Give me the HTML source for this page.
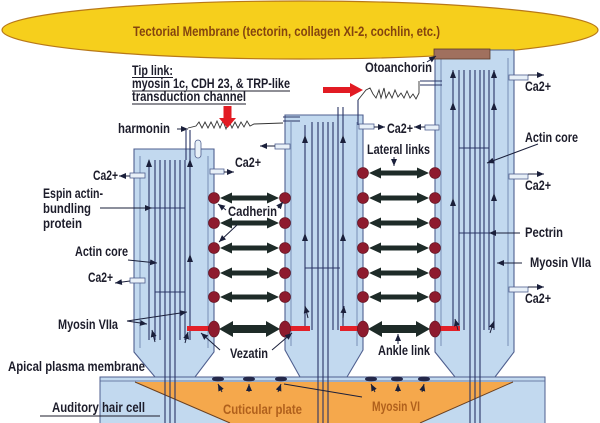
<!DOCTYPE html>
<html><head><meta charset="utf-8">
<style>
html,body{margin:0;padding:0;background:#fff;}
svg{display:block;}
text{font-family:"Liberation Sans",sans-serif;font-weight:bold;font-size:13.5px;fill:#1d1d2b;}
</style></head><body>
<svg width="600" height="423" viewBox="0 0 600 423" xmlns="http://www.w3.org/2000/svg">
<defs>
<marker id="ah" markerWidth="7" markerHeight="6" refX="7" refY="3" orient="auto" markerUnits="userSpaceOnUse"><path d="M0,0 L7,3 L0,6 Z" fill="#1a1f3a"/></marker>
</defs>

<!-- Tectorial membrane -->
<ellipse cx="300" cy="30" rx="298" ry="29" fill="#F6CF1C" stroke="#B87818" stroke-width="1.2"/>
<text x="133" y="36" textLength="307" lengthAdjust="spacingAndGlyphs" style="fill:#84440F">Tectorial Membrane (tectorin, collagen XI-2, cochlin, etc.)</text>

<!-- base cell body -->
<rect x="100" y="377" width="445" height="50" fill="#C2D9EF" stroke="#4F5F8F" stroke-width="1"/>
<line x1="100" y1="381" x2="545" y2="381" stroke="#4F5F8F" stroke-width="0.8"/>
<polygon points="135,382 513,382 420,423 230,423" fill="#F5A84C"/>
<polyline points="135,382 230,423" fill="none" stroke="#6a4020" stroke-width="1"/>
<polyline points="513,382 420,423" fill="none" stroke="#6a4020" stroke-width="1"/>

<!-- cells -->
<path d="M134,149 L214,149 L214,352 L195,377 L155,377 L134,352 Z" fill="#C2D9EF" stroke="#4F5F8F" stroke-width="1.1"/>
<path d="M285,115 L363,115 L363,350 L347,377 L300,377 L285,350 Z" fill="#C2D9EF" stroke="#4F5F8F" stroke-width="1.1"/>
<path d="M435,50 L514,50 L514,352 L495,377 L455,377 L435,352 Z" fill="#C2D9EF" stroke="#4F5F8F" stroke-width="1.1"/>

<!-- inner walls -->
<g stroke="#7088B0" stroke-width="0.9">
<line x1="140" y1="156" x2="140" y2="348"/><line x1="208" y1="156" x2="208" y2="348"/>
<line x1="291" y1="122" x2="291" y2="346"/><line x1="357" y1="122" x2="357" y2="346"/>
<line x1="441" y1="58" x2="441" y2="346"/><line x1="508" y1="58" x2="508" y2="346"/>
</g>

<!-- filaments cell 1 -->
<g stroke="#2a3566" stroke-width="1.1">
<line x1="149" y1="160" x2="149" y2="340"/><line x1="155" y1="160" x2="155" y2="340"/>
<line x1="160" y1="160" x2="160" y2="340"/><line x1="165" y1="160" x2="165" y2="423"/>
<line x1="170" y1="160" x2="170" y2="423"/><line x1="175" y1="160" x2="175" y2="423"/>
<line x1="180" y1="160" x2="180" y2="340"/><line x1="185" y1="160" x2="185" y2="340"/>
<line x1="190" y1="130" x2="190" y2="340"/><line x1="186" y1="130" x2="186" y2="160"/>
<line x1="149" y1="208" x2="185" y2="208"/><line x1="155" y1="292" x2="185" y2="292"/>
</g>
<rect x="195" y="140" width="6" height="18" rx="3" fill="#E8F0F8" stroke="#4F5F8F" stroke-width="0.8"/>
<g fill="#1a1f3a">
<path d="M146,167 L149,159 L152,167 Z"/><path d="M187,167 L190,159 L193,167 Z"/>
<path d="M187,262 L190,254 L193,262 Z"/>
</g>

<!-- filaments cell 2 -->
<g stroke="#2a3566" stroke-width="1.1">
<line x1="305" y1="125" x2="305" y2="330"/><line x1="312" y1="122" x2="312" y2="330"/>
<line x1="318" y1="122" x2="318" y2="423"/><line x1="323" y1="122" x2="323" y2="423"/>
<line x1="328" y1="122" x2="328" y2="423"/><line x1="333" y1="122" x2="333" y2="330"/>
<line x1="338" y1="107" x2="338" y2="330"/><line x1="343" y1="107" x2="343" y2="330"/>
<line x1="358" y1="100" x2="358" y2="125"/>
<line x1="305" y1="268" x2="340" y2="268"/>
<line x1="283" y1="117" x2="300" y2="117"/><line x1="283" y1="121" x2="300" y2="121"/>
</g>
<g fill="#1a1f3a">
<path d="M302,143 L305,135 L308,143 Z"/><path d="M340,143 L343,135 L346,143 Z"/>
<path d="M302,241 L305,233 L308,241 Z"/><path d="M340,241 L343,233 L346,241 Z"/>
</g>

<!-- filaments cell 3 -->
<g stroke="#2a3566" stroke-width="1.1">
<line x1="453" y1="70" x2="453" y2="330"/><line x1="459" y1="70" x2="459" y2="330"/>
<line x1="464" y1="70" x2="464" y2="330"/><line x1="470" y1="70" x2="470" y2="423"/>
<line x1="475" y1="70" x2="475" y2="423"/><line x1="480" y1="70" x2="480" y2="423"/>
<line x1="484" y1="70" x2="484" y2="330"/><line x1="489" y1="70" x2="489" y2="330"/>
<line x1="494" y1="70" x2="494" y2="330"/>
<line x1="459" y1="148" x2="489" y2="148"/><line x1="459" y1="233" x2="489" y2="233"/>
<line x1="420" y1="81" x2="442" y2="81"/><line x1="420" y1="85" x2="442" y2="85"/>
</g>
<g fill="#1a1f3a">
<path d="M450,78 L453,70 L456,78 Z"/><path d="M491,78 L494,70 L497,78 Z"/>
<path d="M450,110 L453,102 L456,110 Z"/><path d="M491,110 L494,102 L497,110 Z"/>
<path d="M450,206 L453,198 L456,206 Z"/><path d="M491,201 L494,193 L497,201 Z"/>
</g>
<rect x="434" y="49" width="56" height="10" fill="#A0705E" stroke="#5a3a2a" stroke-width="0.8"/>

<!-- red vezatin bars -->
<g fill="#E32028">
<rect x="187" y="326" width="27" height="5"/>
<rect x="285" y="326" width="25" height="5"/>
<rect x="340" y="326" width="23" height="5"/>
<rect x="435" y="326" width="25" height="5"/>
</g>

<!-- links -->
<g fill="#1E2B28">
<path d="M220,198 L232,192.5 L232,195.5 L267,195.5 L267,192.5 L279,198 L267,203.5 L267,200.5 L232,200.5 L232,203.5 Z"/>
<path d="M220,223 L232,217.5 L232,220.5 L267,220.5 L267,217.5 L279,223 L267,228.5 L267,225.5 L232,225.5 L232,228.5 Z"/>
<path d="M220,248 L232,242.5 L232,245.5 L267,245.5 L267,242.5 L279,248 L267,253.5 L267,250.5 L232,250.5 L232,253.5 Z"/>
<path d="M220,273 L232,267.5 L232,270.5 L267,270.5 L267,267.5 L279,273 L267,278.5 L267,275.5 L232,275.5 L232,278.5 Z"/>
<path d="M220,297 L232,291.5 L232,294.5 L267,294.5 L267,291.5 L279,297 L267,302.5 L267,299.5 L232,299.5 L232,302.5 Z"/>
<path d="M219,329 L233,321 L233,325 L266,325 L266,321 L280,329 L266,337 L266,333 L233,333 L233,337 Z"/>
<path d="M369,173 L381,167.5 L381,170.5 L417,170.5 L417,167.5 L429,173 L417,178.5 L417,175.5 L381,175.5 L381,178.5 Z"/>
<path d="M369,198 L381,192.5 L381,195.5 L417,195.5 L417,192.5 L429,198 L417,203.5 L417,200.5 L381,200.5 L381,203.5 Z"/>
<path d="M369,223 L381,217.5 L381,220.5 L417,220.5 L417,217.5 L429,223 L417,228.5 L417,225.5 L381,225.5 L381,228.5 Z"/>
<path d="M369,248 L381,242.5 L381,245.5 L417,245.5 L417,242.5 L429,248 L417,253.5 L417,250.5 L381,250.5 L381,253.5 Z"/>
<path d="M369,273 L381,267.5 L381,270.5 L417,270.5 L417,267.5 L429,273 L417,278.5 L417,275.5 L381,275.5 L381,278.5 Z"/>
<path d="M369,297 L381,291.5 L381,294.5 L417,294.5 L417,291.5 L429,297 L417,302.5 L417,299.5 L381,299.5 L381,302.5 Z"/>
<path d="M368,329 L382,321 L382,325 L416,325 L416,321 L430,329 L416,337 L416,333 L382,333 L382,337 Z"/>
</g>
<g fill="#8E1B2E" stroke="#5a0f1c" stroke-width="0.6">
<circle cx="214" cy="198" r="5.5"/><circle cx="285" cy="198" r="5.5"/>
<circle cx="214" cy="223" r="5.5"/><circle cx="285" cy="223" r="5.5"/>
<circle cx="214" cy="248" r="5.5"/><circle cx="285" cy="248" r="5.5"/>
<circle cx="214" cy="273" r="5.5"/><circle cx="285" cy="273" r="5.5"/>
<circle cx="214" cy="297" r="5.5"/><circle cx="285" cy="297" r="5.5"/>
<ellipse cx="214" cy="329" rx="5.5" ry="8"/><ellipse cx="285" cy="329" rx="5.5" ry="8"/>
<circle cx="363" cy="173" r="5.5"/><circle cx="435" cy="173" r="5.5"/>
<circle cx="363" cy="198" r="5.5"/><circle cx="435" cy="198" r="5.5"/>
<circle cx="363" cy="223" r="5.5"/><circle cx="435" cy="223" r="5.5"/>
<circle cx="363" cy="248" r="5.5"/><circle cx="435" cy="248" r="5.5"/>
<circle cx="363" cy="273" r="5.5"/><circle cx="435" cy="273" r="5.5"/>
<circle cx="363" cy="297" r="5.5"/><circle cx="435" cy="297" r="5.5"/>
<ellipse cx="363" cy="329" rx="5.5" ry="8"/><ellipse cx="435" cy="329" rx="5.5" ry="8"/>
</g>

<!-- tip links -->
<path d="M188,128 L196,126 L199,122 L202,128 L205,122 L208,128 L211,122 L214,128 L217,121 L220,128 L223,121 L226,129 L229,121 L232,128 L235,122 L238,128 L241,122 L244,127 L247,121 L250,126 L254,124 L283,123" fill="none" stroke="#333" stroke-width="0.9"/>
<path d="M358,100 L362,95 L366,90 L370,88 L373,94 L376,98 L379,90 L381,98 L384,88 L386,98 L389,92 L392,98 L395,90 L398,97 L401,93 L404,98 L407,91 L410,98 L413,94 L416,99 L419,93 L419,81" fill="none" stroke="#333" stroke-width="0.9"/>
<path d="M223.5,106 L231.5,106 L231.5,118 L236,118 L227.5,128 L219,118 L223.5,118 Z" fill="#E21B23"/>
<path d="M323,87 L350,87 L350,83 L363,90 L350,97 L350,93 L323,93 Z" fill="#E21B23"/>

<!-- Ca2+ pores -->
<g fill="#E8F0F8" stroke="#4F5F8F" stroke-width="0.8">
<rect x="130" y="173" width="15" height="5"/><rect x="130" y="278" width="15" height="5"/>
<rect x="210" y="169" width="14" height="5"/><rect x="275" y="144" width="15" height="5"/>
<rect x="359" y="124" width="15" height="5"/><rect x="425" y="125" width="14" height="5"/>
<rect x="509" y="75" width="19" height="5"/><rect x="509" y="174" width="19" height="5"/>
<rect x="509" y="287" width="19" height="5"/>
</g>
<g stroke="#1a1f3a" stroke-width="1" fill="none" marker-end="url(#ah)">
<line x1="130" y1="176" x2="119" y2="176"/>
<line x1="130" y1="281" x2="115" y2="283"/>
<line x1="224" y1="172" x2="234" y2="172"/>
<line x1="275" y1="146" x2="260" y2="146"/>
<line x1="374" y1="127" x2="385" y2="127"/>
<line x1="425" y1="127" x2="414" y2="127"/>
<line x1="528" y1="75" x2="544" y2="75"/>
<line x1="528" y1="174" x2="544" y2="174"/>
<line x1="528" y1="287" x2="544" y2="287"/>
<!-- leaders -->
<line x1="177" y1="129" x2="188" y2="129"/>
<line x1="100" y1="208" x2="152" y2="208"/>
<line x1="128" y1="260" x2="157" y2="263"/>
<line x1="127" y1="321" x2="147" y2="324"/>
<line x1="127" y1="321" x2="187" y2="312"/>
<line x1="155" y1="342" x2="152" y2="330"/>
<line x1="185" y1="343" x2="188" y2="332"/>
<line x1="237" y1="225" x2="219" y2="242"/>
<line x1="226" y1="210" x2="218" y2="204"/>
<line x1="278" y1="208" x2="283" y2="202"/>
<line x1="220" y1="350" x2="201" y2="333"/>
<line x1="272" y1="350" x2="292" y2="333"/>
<line x1="394" y1="157" x2="394" y2="166"/>
<line x1="398" y1="344" x2="398" y2="334"/>
<line x1="427" y1="62" x2="436" y2="56"/>
<line x1="538" y1="144" x2="487" y2="163"/>
<line x1="520" y1="233" x2="489" y2="233"/>
<line x1="522" y1="263" x2="497" y2="263"/>
<line x1="458" y1="330" x2="455" y2="319"/>
<line x1="490" y1="333" x2="494" y2="321"/>
<line x1="308" y1="318" x2="305" y2="306"/>
<line x1="343" y1="318" x2="344" y2="306"/>
<line x1="222" y1="392" x2="218" y2="384"/>
<line x1="249" y1="392" x2="249" y2="384"/>
<line x1="278" y1="392" x2="281" y2="384"/>
<line x1="375" y1="392" x2="371" y2="384"/>
<line x1="398" y1="392" x2="398" y2="384"/>
<line x1="422" y1="392" x2="424" y2="384"/>
</g>
<line x1="362" y1="397" x2="284" y2="384" stroke="#1a1f3a" stroke-width="0.9"/>

<!-- myosin VI blobs -->
<g fill="#24284a">
<ellipse cx="218" cy="379" rx="6" ry="2.5"/><ellipse cx="249" cy="379" rx="6" ry="2.5"/>
<ellipse cx="281" cy="379" rx="6" ry="2.5"/><ellipse cx="371" cy="379" rx="6" ry="2.5"/>
<ellipse cx="397" cy="379" rx="6" ry="2.5"/><ellipse cx="424" cy="379" rx="6" ry="2.5"/>
</g>

<!-- Labels -->
<text x="132" y="75" textLength="41" lengthAdjust="spacingAndGlyphs">Tip link:</text>
<text x="132" y="88" textLength="158" lengthAdjust="spacingAndGlyphs">myosin 1c, CDH 23, &amp; TRP-like</text>
<text x="132" y="101" textLength="114" lengthAdjust="spacingAndGlyphs">transduction channel</text>
<g stroke="#1d1d2b" stroke-width="1">
<line x1="132" y1="77.5" x2="173" y2="77.5"/>
<line x1="132" y1="91" x2="290" y2="91"/>
<line x1="132" y1="104" x2="246" y2="104"/>
<line x1="40" y1="416" x2="160" y2="416"/>
</g>
<text x="118" y="133" textLength="52" lengthAdjust="spacingAndGlyphs">harmonin</text>
<text x="43" y="198" textLength="60" lengthAdjust="spacingAndGlyphs">Espin actin-</text>
<text x="43" y="213" textLength="48" lengthAdjust="spacingAndGlyphs">bundling</text>
<text x="43" y="228" textLength="39" lengthAdjust="spacingAndGlyphs">protein</text>
<text x="75" y="256" textLength="53" lengthAdjust="spacingAndGlyphs">Actin core</text>
<text x="93" y="180" textLength="25" lengthAdjust="spacingAndGlyphs">Ca2+</text>
<text x="88" y="282" textLength="25" lengthAdjust="spacingAndGlyphs">Ca2+</text>
<text x="58" y="329" textLength="60" lengthAdjust="spacingAndGlyphs">Myosin VIIa</text>
<text x="8" y="371" textLength="137" lengthAdjust="spacingAndGlyphs">Apical plasma membrane</text>
<text x="52" y="412" textLength="93" lengthAdjust="spacingAndGlyphs">Auditory hair cell</text>
<text x="235" y="167" textLength="26" lengthAdjust="spacingAndGlyphs">Ca2+</text>
<text x="228" y="216" textLength="49" lengthAdjust="spacingAndGlyphs">Cadherin</text>
<text x="230" y="358" textLength="38" lengthAdjust="spacingAndGlyphs">Vezatin</text>
<text x="367" y="154" textLength="63" lengthAdjust="spacingAndGlyphs">Lateral links</text>
<text x="378" y="355" textLength="52" lengthAdjust="spacingAndGlyphs">Ankle link</text>
<text x="387" y="133" textLength="26" lengthAdjust="spacingAndGlyphs">Ca2+</text>
<text x="365" y="72" textLength="67" lengthAdjust="spacingAndGlyphs">Otoanchorin</text>
<text x="525" y="91" textLength="26" lengthAdjust="spacingAndGlyphs">Ca2+</text>
<text x="525" y="142" textLength="53" lengthAdjust="spacingAndGlyphs">Actin core</text>
<text x="525" y="190" textLength="26" lengthAdjust="spacingAndGlyphs">Ca2+</text>
<text x="525" y="237" textLength="38" lengthAdjust="spacingAndGlyphs">Pectrin</text>
<text x="530" y="267" textLength="61" lengthAdjust="spacingAndGlyphs">Myosin VIIa</text>
<text x="525" y="303" textLength="26" lengthAdjust="spacingAndGlyphs">Ca2+</text>
<text x="223" y="414" textLength="79" lengthAdjust="spacingAndGlyphs" style="fill:#B0601C">Cuticular plate</text>
<text x="372" y="411" textLength="48" lengthAdjust="spacingAndGlyphs" style="fill:#B0601C">Myosin VI</text>
</svg>
</body></html>
